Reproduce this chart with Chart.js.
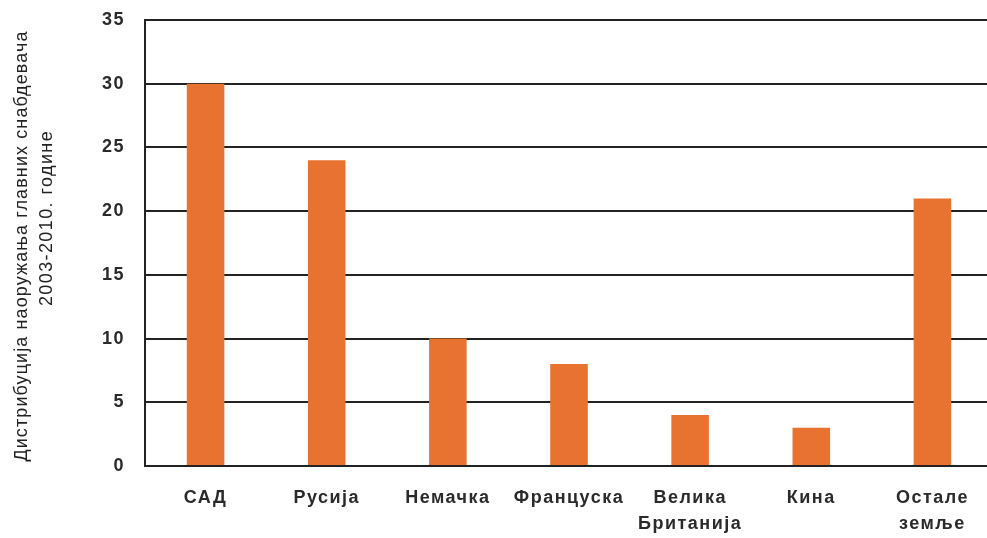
<!DOCTYPE html>
<html>
<head>
<meta charset="utf-8">
<script src="https://cdn.jsdelivr.net/npm/chart.js@4"></script>
<style>
  html, body { margin: 0; padding: 0; background: #fff; overflow: hidden; }
  #wrap { width: 993px; height: 538px; }
</style>
</head>
<body>
<div id="wrap"><canvas id="chart"></canvas></div>
<script>
// Удео главних снабдевача оружјем, 2003-2010.
const categories = ['САД', 'Русија', 'Немачка', 'Француска', ['Велика', 'Британија'], 'Кина', ['Остале', 'земље']];
const shares = [30, 24, 10, 8, 4, 3, 21];
const yTicks = [0, 5, 10, 15, 20, 25, 30, 35];
const titleLines = ['Дистрибуција наоружања главних снабдевача', '2003-2010. године'];

const FONT = '"Liberation Sans", Arial, sans-serif';

// мало развучена слова за све натписе
const spacing = {
  id: 'spacing',
  beforeDraw(chart) { chart.ctx.letterSpacing = '1.5px'; }
};

// наслов осе Y, ротиран, у два реда
const yTitle = {
  id: 'yTitle',
  afterDraw(chart) {
    const { ctx } = chart;
    const line = (text, x, y, gap) => {
      ctx.save();
      ctx.fillStyle = '#222';
      ctx.textAlign = 'center';
      ctx.textBaseline = 'middle';
      ctx.letterSpacing = gap;
      ctx.font = '18px ' + FONT;
      ctx.translate(x, y);
      ctx.rotate(-Math.PI / 2);
      ctx.fillText(text, 0, 0);
      ctx.restore();
    };
    line(titleLines[0], 22, 246, '1.1px');
    line(titleLines[1], 47, 218, '1.4px');
  }
};

new Chart(document.getElementById('chart'), {
  type: 'bar',
  data: {
    labels: categories,
    datasets: [{
      data: shares,
      backgroundColor: '#E8722F',
      barPercentage: 0.31,
      categoryPercentage: 1
    }]
  },
  options: {
    responsive: true,
    maintainAspectRatio: false,
    animation: false,
    layout: { padding: { top: 20, right: 0, bottom: 0, left: 0 } },
    plugins: { legend: { display: false }, tooltip: { enabled: false } },
    scales: {
      x: {
        grid: { display: false },
        border: { color: '#222', width: 2 },
        ticks: {
          color: '#2a2a2a',
          padding: 11,
          maxRotation: 0,
          autoSkip: false,
          font: { family: FONT, size: 18, weight: 'bold', lineHeight: 1.45 }
        },
        afterFit(scale) {
          scale.height = 72;
          scale.paddingLeft = 0;
          scale.paddingRight = 0;
        }
      },
      y: {
        min: 0,
        max: 35,
        afterBuildTicks(scale) { scale.ticks = yTicks.map(v => ({ value: v })); },
        grid: { color: '#222', lineWidth: 2, drawTicks: false },
        border: { color: '#222', width: 2 },
        ticks: {
          color: '#2a2a2a',
          padding: 20,
          font: { family: FONT, size: 18, weight: 'bold' }
        },
        afterFit(scale) {
          scale.width = 145;
          scale.paddingTop = 0;
          scale.paddingBottom = 0;
        }
      }
    }
  },
  plugins: [spacing, yTitle]
});
</script>
</body>
</html>
